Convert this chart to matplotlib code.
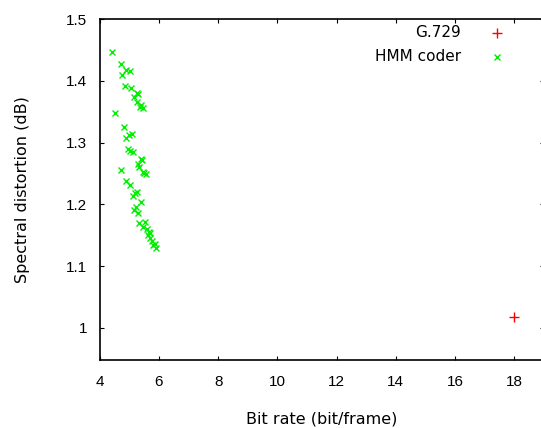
import matplotlib
matplotlib.use("Agg")
import matplotlib.pyplot as plt

plt.rcParams['font.family'] = ['Liberation Sans', 'DejaVu Sans']

hmm_x = [4.42, 4.72, 4.90, 5.01, 4.76, 4.85, 5.04, 5.24, 5.30, 5.17, 5.25, 5.39, 5.47, 5.35,
         4.51, 4.82, 5.08, 5.00, 4.87, 4.96, 5.13, 5.01, 5.39, 5.42, 5.28, 5.33, 5.47, 5.56, 5.50,
         4.71, 4.87, 5.01, 5.18, 5.26, 5.13, 5.38, 5.17, 5.30, 5.22, 5.33, 5.53, 5.47, 5.65, 5.70,
         5.60, 5.68, 5.64, 5.81, 5.90, 5.75, 5.85]
hmm_y = [1.446, 1.427, 1.417, 1.416, 1.409, 1.392, 1.389, 1.380, 1.378, 1.373, 1.366, 1.361, 1.356, 1.358,
         1.348, 1.325, 1.314, 1.313, 1.307, 1.290, 1.284, 1.286, 1.273, 1.272, 1.265, 1.260, 1.253, 1.249, 1.251,
         1.255, 1.238, 1.231, 1.218, 1.220, 1.214, 1.204, 1.191, 1.186, 1.195, 1.169, 1.172, 1.164, 1.156, 1.154,
         1.160, 1.145, 1.150, 1.134, 1.129, 1.140, 1.136]
g729_x = [18.0]
g729_y = [1.018]

xticks = [4, 6, 8, 10, 12, 14, 16, 18]
yticks = [1.0, 1.1, 1.2, 1.3, 1.4, 1.5]
ytick_labels = ['1', '1.1', '1.2', '1.3', '1.4', '1.5']

fig = plt.figure(figsize=(5.41, 4.28), dpi=100)
ax = fig.add_axes([0.1845, 0.1589, 0.8205, 0.7967])

ax.plot(g729_x, g729_y, linestyle='none', marker='+', color='#ff0000', markersize=6.5, markeredgewidth=1.0)
ax.plot(hmm_x, hmm_y, linestyle='none', marker='x', color='#00ee00', markersize=4.5, markeredgewidth=1.0)

ax.set_xlim(4, 19)
ax.set_ylim(0.948, 1.5)
ax.set_xticks(xticks)
ax.set_yticks(yticks)
ax.set_yticklabels(ytick_labels)
ax.tick_params(direction='in', length=3, width=0.8, top=True, right=True, labelsize=11, pad=9)
ax.tick_params(axis='x', pad=11)
for s in ax.spines.values():
    s.set_linewidth(1.2)

ax.set_xlabel('Bit rate (bit/frame)', fontsize=11.5, family='DejaVu Sans', labelpad=16)
ax.set_ylabel('Spectral distortion (dB)', fontsize=11.5, family='DejaVu Sans', labelpad=26)

# key
ax.text(0.8135, 0.959, 'G.729', transform=ax.transAxes, ha='right', va='center', fontsize=11, family='DejaVu Sans')
ax.text(0.8135, 0.8886, 'HMM coder', transform=ax.transAxes, ha='right', va='center', fontsize=11, family='DejaVu Sans')
ax.plot([0.8946], [0.959], transform=ax.transAxes, marker='+', color='#ff0000', markersize=6.5,
        markeredgewidth=1.0, linestyle='none', clip_on=False)
ax.plot([0.8946], [0.8886], transform=ax.transAxes, marker='x', color='#00ee00', markersize=4.5,
        markeredgewidth=1.0, linestyle='none', clip_on=False)

fig.savefig('out.png', dpi=100)
